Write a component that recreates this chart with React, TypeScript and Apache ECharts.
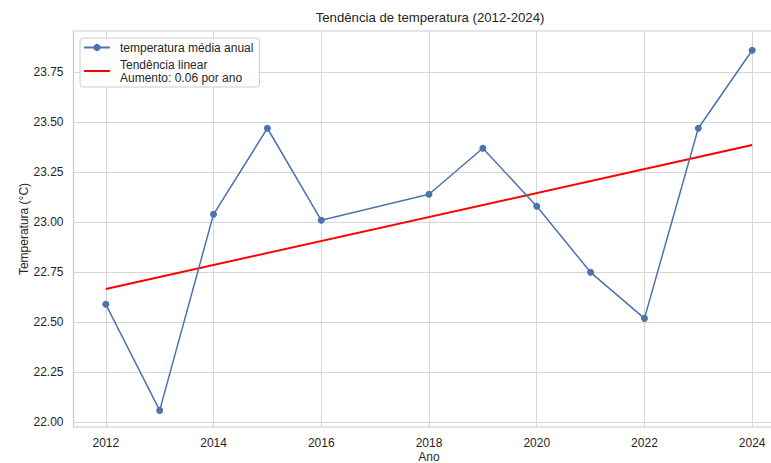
import React, { useEffect, useRef } from "react";
import * as echarts from "echarts";

const years = [2012, 2013, 2014, 2015, 2016, 2018, 2019, 2020, 2021, 2022, 2023, 2024];
const temps = [22.59, 22.06, 23.04, 23.47, 23.01, 23.14, 23.37, 23.08, 22.75, 22.52, 23.47, 23.86];
const trendYears = [2012, 2024];
const trendValues = [22.667, 23.386];
const xTicks = [2012, 2014, 2016, 2018, 2020, 2022, 2024];
const yTicks = [22.0, 22.25, 22.5, 22.75, 23.0, 23.25, 23.5, 23.75];

const FONT = "'Liberation Sans', Arial, sans-serif";
const TXT = "#262626";
const SERIES_NAME = "temperatura média anual";
const TREND_NAME = "Tendência linear\nAumento: 0.06 por ano";

export default function App() {
  const ref = useRef<HTMLDivElement>(null);
  useEffect(() => {
    if (!ref.current) return;
    const chart = echarts.init(ref.current, undefined, { renderer: "svg" });
    chart.setOption({
      animation: false,
      backgroundColor: "#ffffff",
      textStyle: { fontFamily: FONT, color: TXT },
      title: {
        text: "Tendência de temperatura (2012-2024)",
        left: 425,
        top: 6,
        textAlign: "center",
        textStyle: { fontFamily: FONT, fontSize: 13.2, fontWeight: "normal", color: TXT },
      },
      grid: {
        left: 73.5,
        top: 31,
        width: 711,
        height: 396,
        outerBoundsMode: "none",
        containLabel: false,
        show: true,
        borderColor: "#cccccc",
        borderWidth: 1.2,
        backgroundColor: "transparent",
      },
      legend: {
        left: 80,
        top: 38,
        orient: "vertical",
        align: "left",
        padding: [3, 6, 3, 3],
        itemGap: 4,
        itemWidth: 26,
        itemHeight: 9,
        backgroundColor: "rgba(255,255,255,0.85)",
        borderColor: "#cccccc",
        borderWidth: 1,
        borderRadius: 3,
        textStyle: { fontFamily: FONT, fontSize: 12, color: TXT, lineHeight: 13, padding: [0, 0, 0, 5] },
        data: [
          { name: SERIES_NAME },
          { name: TREND_NAME, itemStyle: { opacity: 0 } },
        ],
      },
      xAxis: {
        type: "value",
        min: 2011.4,
        max: 2024.6,
        name: "Ano",
        nameLocation: "middle",
        nameGap: 24,
        nameMoveOverlap: false,
        nameTextStyle: { fontFamily: FONT, fontSize: 12, lineHeight: 12, color: TXT },
        axisLine: { show: false },
        axisTick: { show: false, customValues: xTicks },
        axisLabel: {
          customValues: xTicks,
          margin: 10,
          fontFamily: FONT,
          fontSize: 12,
          lineHeight: 12,
          color: TXT,
          formatter: (v: number) => String(v),
        },
        splitLine: { show: true, lineStyle: { color: "#d6d6d6", width: 1 } },
      },
      yAxis: {
        type: "value",
        min: 21.977,
        max: 23.956,
        name: "Temperatura (°C)",
        nameLocation: "middle",
        nameGap: 44,
        nameMoveOverlap: false,
        nameTextStyle: { fontFamily: FONT, fontSize: 12, color: TXT },
        axisLine: { show: false },
        axisTick: { show: false, customValues: yTicks },
        axisLabel: {
          customValues: yTicks,
          margin: 10,
          fontFamily: FONT,
          fontSize: 12,
          color: TXT,
          formatter: (v: number) => v.toFixed(2),
        },
        splitLine: { show: true, lineStyle: { color: "#d6d6d6", width: 1 } },
      },
      series: [
        {
          name: SERIES_NAME,
          type: "line",
          data: years.map((y, i) => [y, temps[i]]),
          symbol: "circle",
          symbolSize: 7,
          showAllSymbol: true,
          itemStyle: { color: "#4c72b0" },
          lineStyle: { color: "#4c72b0", width: 1.5 },
          z: 3,
        },
        {
          name: TREND_NAME,
          type: "line",
          data: trendYears.map((y, i) => [y, trendValues[i]]),
          symbol: "none",
          itemStyle: { color: "#ff0000" },
          lineStyle: { color: "#ff0000", width: 2 },
          z: 2,
        },
      ],
    });
    return () => chart.dispose();
  }, []);
  return <div ref={ref} style={{ width: 771, height: 463, position: "absolute", left: 0, top: 0 }} />;
}
